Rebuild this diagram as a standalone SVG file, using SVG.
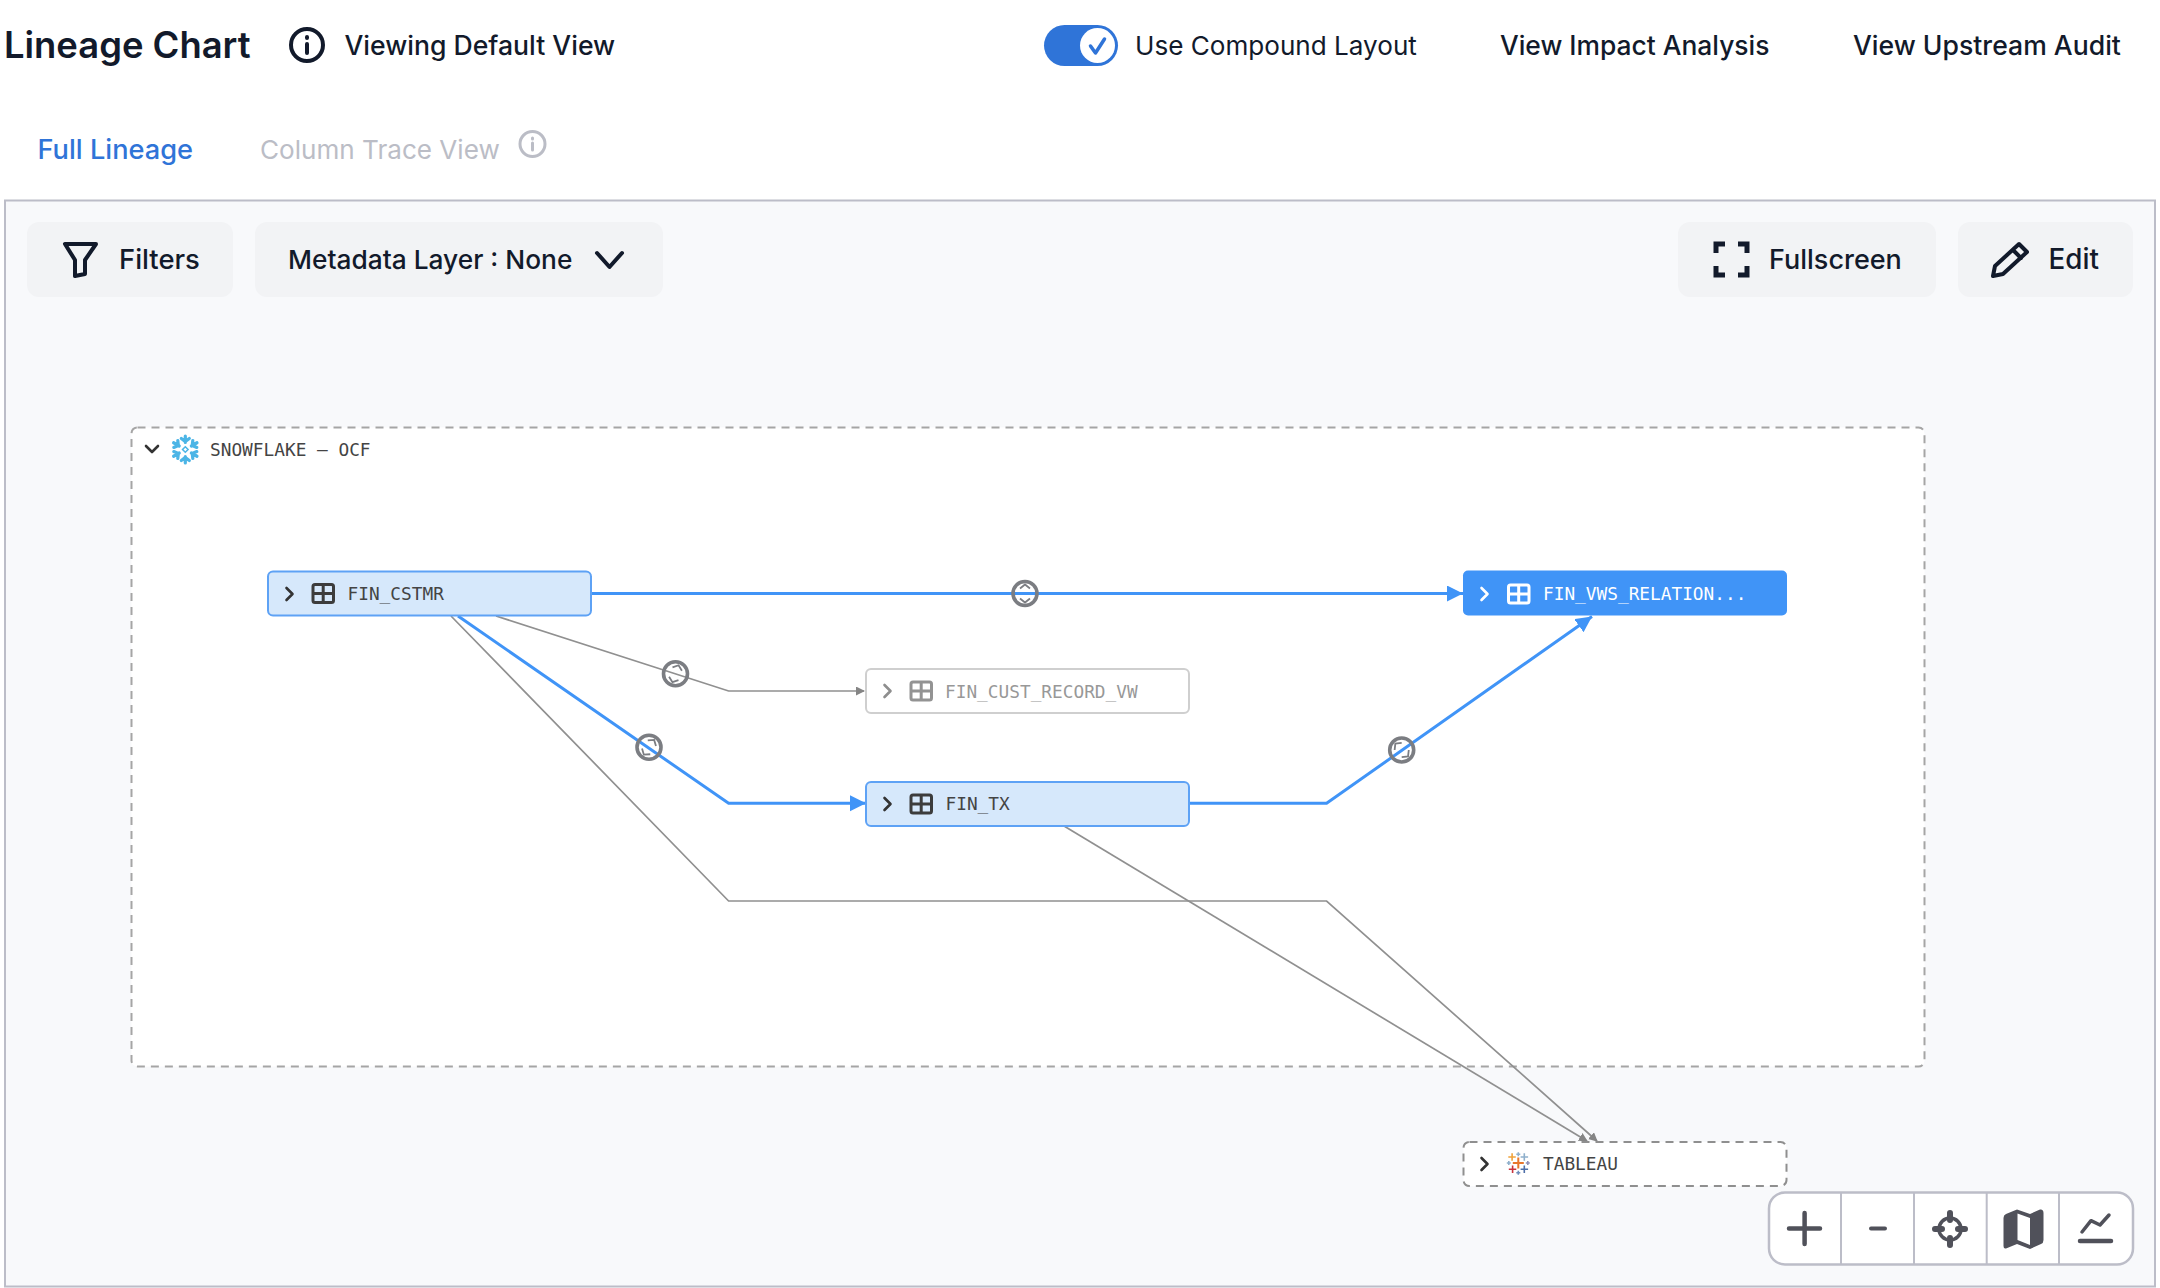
<svg xmlns="http://www.w3.org/2000/svg" width="2160" height="1288" viewBox="0 0 2160 1288">
<style>
.ui{font-family:"Inter","Liberation Sans",sans-serif;font-weight:500;font-size:26.5px;fill:#121a2b}
.mono{font-family:"DejaVu Sans Mono","Liberation Mono",monospace;font-size:17.8px;fill:#444}
.btn{fill:#f2f3f5}
.ic{fill:none;stroke:#121a2b;stroke-width:4;stroke-linecap:round;stroke-linejoin:round}
.ctl{fill:none;stroke:#50515a;stroke-width:4.500;stroke-linecap:round;stroke-linejoin:round}
.node{fill:#d6e8fb;stroke:#5ea2f5;stroke-width:2}
.chev{fill:none;stroke:#333;stroke-width:2.600;stroke-linecap:round;stroke-linejoin:round}
.tb{fill:none;stroke:#3c3c3c;stroke-width:3}
.eb{fill:none;stroke:#4094f7;stroke-width:3}
.eg{fill:none;stroke:#909090;stroke-width:1.700}
.expand circle{fill:none;stroke:#7b7d82;stroke-width:3.600}
.expand path{fill:none;stroke:#7b7d82;stroke-width:1.800}
.tp{stroke-width:1.600;fill:none}
</style>
<defs>
<marker id="ab" markerUnits="userSpaceOnUse" markerWidth="18" markerHeight="18" refX="16" refY="8" orient="auto"><path d="M0 0L16 8L0 16Z" fill="#4094f7"/></marker>
<marker id="ag" markerUnits="userSpaceOnUse" markerWidth="10" markerHeight="10" refX="8" refY="4.500" orient="auto"><path d="M0 0L9 4.500L0 9Z" fill="#858585"/></marker>
</defs>
<rect width="2160" height="1288" fill="#fff"/>
<g id="header">
<text x="4" y="58" style="font-family:Inter,'Liberation Sans',sans-serif;font-weight:600;font-size:36.400px;fill:#121a2b">Lineage Chart</text>
<circle cx="307" cy="45" r="16" class="ic"/><path d="M307 37v1M307 44v9" class="ic"/>
<text x="344.500" y="55" class="ui" style="font-size:26.600px">Viewing Default View</text>
<rect x="1044" y="25" width="74" height="41" rx="20.500" fill="#2f74d8"/>
<circle cx="1097.500" cy="45.500" r="17.500" fill="#fff"/>
<path d="M1090.500 46l5 7l9 -14" fill="none" stroke="#2f74d8" stroke-width="3.500" stroke-linecap="round" stroke-linejoin="round"/>
<text x="1135" y="55" class="ui" style="font-weight:400;font-size:26.100px">Use Compound Layout</text>
<text x="1500" y="55" class="ui" style="font-size:26.400px">View Impact Analysis</text>
<text x="1853" y="55" class="ui" style="font-size:26.600px">View Upstream Audit</text>
<text x="37.500" y="159" class="ui" style="fill:#2f74d8;font-size:27.200px">Full Lineage</text>
<text x="260" y="159" class="ui" style="fill:#bbbdc6;font-weight:400;font-size:26.100px">Column Trace View</text>
<circle cx="532.500" cy="144" r="12.500" fill="none" stroke="#bbbdc6" stroke-width="3"/><path d="M532.500 138v1M532.500 143v7" fill="none" stroke="#bbbdc6" stroke-width="3" stroke-linecap="round"/>
</g>
<rect id="panel" x="5" y="200.500" width="2150" height="1086" fill="#f8f9fb" stroke="#bcbdc8" stroke-width="2"/>
<g id="toolbar">
<rect x="27" y="222" width="206" height="75" rx="12" class="btn"/>
<path d="M65 244H96L85 260V274L75 276V260Z" class="ic"/>
<text x="119" y="269" class="ui" style="font-size:27.400px">Filters</text>
<rect x="255" y="222" width="408" height="75" rx="12" class="btn"/>
<text x="288" y="269" class="ui" style="font-size:26.300px">Metadata Layer : None</text>
<path d="M597 253L609.500 267L622 253" class="ic"/>
<rect x="1678" y="222" width="258" height="75" rx="12" class="btn"/>
<path d="M1716 253V244H1725M1738 244H1747V253M1747 266V275H1738M1725 275H1716V266" class="ic" style="stroke-width:5;stroke-linecap:butt;stroke-linejoin:miter"/>
<text x="1769" y="269" class="ui" style="font-size:27px">Fullscreen</text>
<rect x="1958" y="222" width="175" height="75" rx="12" class="btn"/>
<path d="M2019 244L2027 252L2003 274L1993 276L1995 266ZM2013 250L2021 258" class="ic"/>
<text x="2048.500" y="269" class="ui" style="font-size:27.800px">Edit</text>
</g>
<g id="group-snowflake">
<rect x="131.500" y="427.500" width="1793" height="639" rx="6" fill="#fff" stroke="#a5a5a5" stroke-width="2" stroke-dasharray="8 6"/>
<path d="M146 446L152 452L158 446" class="chev"/>
<g fill="none" stroke="#4cb5e6" stroke-width="3.200" stroke-linecap="round" transform="translate(185.300 449.500)">
<path d="M0 -2.800L2.800 0L0 2.800L-2.800 0Z" stroke-width="1.500"/>
<path d="M0 -7V-13.500M-4 -11L0 -8L4 -11"/>
<path d="M0 -7V-13.500M-4 -11L0 -8L4 -11" transform="rotate(60)"/>
<path d="M0 -7V-13.500M-4 -11L0 -8L4 -11" transform="rotate(120)"/>
<path d="M0 -7V-13.500M-4 -11L0 -8L4 -11" transform="rotate(180)"/>
<path d="M0 -7V-13.500M-4 -11L0 -8L4 -11" transform="rotate(240)"/>
<path d="M0 -7V-13.500M-4 -11L0 -8L4 -11" transform="rotate(300)"/>
</g>
<text x="210" y="456" class="mono">SNOWFLAKE – OCF</text>
</g>
<g id="connectors">
<path class="eb" d="M591 593.500H1463" marker-end="url(#ab)"/>
<path class="eg" d="M496 616L728.600 691H864" marker-end="url(#ag)"/>
<path class="eb" d="M458 616L728.600 803.300H866" marker-end="url(#ab)"/>
<path class="eg" d="M451 616L728.600 901H1326.600L1597 1141" marker-end="url(#ag)"/>
<path class="eg" d="M1064 826L1587 1141" marker-end="url(#ag)"/>
<path class="eb" d="M1188 803.300H1326.600L1592 616.500" marker-end="url(#ab)"/>
<g class="expand">
<g transform="translate(1025 593.500)"><circle r="12"/><path d="M-5 -5L0 -9L5 -5M-5 5L0 9L5 5"/></g>
<g transform="translate(675.500 673.700)"><circle r="12"/><path d="M-5 -5L0 -9L5 -5M-5 5L0 9L5 5" transform="rotate(20)"/></g>
<g transform="translate(649 747.300)"><circle r="12"/><path d="M-5 -5L0 -9L5 -5M-5 5L0 9L5 5" transform="rotate(35)"/></g>
<g transform="translate(1401.700 750)"><circle r="12"/><path d="M-5 -5L0 -9L5 -5M-5 5L0 9L5 5" transform="rotate(-45)"/></g>
</g>
</g>
<g id="node-fin-cstmr">
<rect x="268" y="571.500" width="323" height="44" rx="5" class="node"/>
<path d="M286.500 588L292.500 594L286.500 600" class="chev"/>
<rect x="313" y="584.500" width="20.500" height="18" rx="2" class="tb"/><path d="M323.200 584.500v18M313 593.500h20.500" class="tb"/>
<text x="347.500" y="600" class="mono">FIN_CSTMR</text>
</g>
<g id="node-fin-cust-record-vw" opacity=".55">
<rect x="866" y="669" width="323" height="44" rx="5" fill="#fff" stroke="#a8a8a8" stroke-width="2"/>
<path d="M884.500 685L890.500 691L884.500 697" class="chev"/>
<rect x="911" y="682" width="20.500" height="18" rx="2" class="tb"/><path d="M921.200 682v18M911 691h20.500" class="tb"/>
<text x="945" y="698" class="mono">FIN_CUST_RECORD_VW</text>
</g>
<g id="node-fin-tx">
<rect x="866" y="782" width="323" height="44" rx="5" class="node"/>
<path d="M884.500 798L890.500 804L884.500 810" class="chev"/>
<rect x="911" y="795" width="20.500" height="18" rx="2" class="tb"/><path d="M921.200 795v18M911 804h20.500" class="tb"/>
<text x="945.500" y="810" class="mono">FIN_TX</text>
</g>
<g id="node-fin-vws-relation">
<rect x="1463" y="570.500" width="324" height="45" rx="5" fill="#4094f7"/>
<path d="M1481.500 588L1487.500 594L1481.500 600" fill="none" stroke="#fff" stroke-width="2.600" stroke-linecap="round" stroke-linejoin="round"/>
<g fill="none" stroke="#fff" stroke-width="3"><rect x="1508.500" y="585" width="20.500" height="18" rx="2"/><path d="M1518.700 585v18M1508.500 594h20.500"/></g>
<text x="1543" y="600" class="mono" style="fill:#fff">FIN_VWS_RELATION...</text>
</g>
<g id="node-tableau">
<rect x="1463.500" y="1142" width="323" height="44" rx="6" fill="#fff" stroke="#8f8f8f" stroke-width="2" stroke-dasharray="8 6"/>
<path d="M1481.500 1158L1487.500 1164L1481.500 1170" class="chev"/>
<g class="tp" transform="translate(1518.300 1163)">
<path d="M-5.500 0h11M0 -5.500v11" stroke="#e8762b" stroke-width="2"/>
<path d="M-10 -6h7.500M-6.200 -9.700v7.500" stroke="#f0a33c"/>
<path d="M2.300 -6h7.500M6 -9.700v7.500" stroke="#8fb0cc"/>
<path d="M-9.500 6.300h7.500M-5.700 2.600v7.500" stroke="#c9323c"/>
<path d="M2.300 6.300h7.500M6 2.600v7.500" stroke="#4e6ea8"/>
<path d="M-11.500 0h4M-9.500 -2v4" stroke="#8fb0cc"/>
<path d="M7.500 0h4M9.500 -2v4" stroke="#8f90b8"/>
<path d="M-2 -8.700h4M0 -10.700v4" stroke="#8fb0cc"/>
<path d="M-2 9.700h4M0 7.700v4" stroke="#6f8fbc"/>
</g>
<text x="1543" y="1170" class="mono">TABLEAU</text>
</g>
<g id="zoom-controls">
<rect x="1769" y="1192.500" width="364" height="72" rx="16" fill="#fff" stroke="#bcbdc8" stroke-width="2.500"/>
<path d="M1841 1192.500v72M1914 1192.500v72M1986.700 1192.500v72M2059 1192.500v72" stroke="#bcbdc8" stroke-width="2"/>
<path d="M1789 1228.500h31M1804.600 1213v31" class="ctl"/>
<path d="M1871 1228.500h14" class="ctl" style="stroke-width:4"/>
<circle cx="1950" cy="1229" r="11" fill="none" stroke="#50515a" stroke-width="3.500"/>
<path d="M1950 1213v7M1950 1238v7M1935 1229h7M1958 1229h7" class="ctl" style="stroke-width:6"/>
<path d="M2006 1214L2017 1209.500L2030 1214L2040 1209.500Q2043.500 1209 2043.500 1213V1240Q2043.500 1243 2041 1244L2030 1249L2017 1244L2006 1248.500Q2003.500 1249 2003.500 1246V1218Q2003.500 1215 2006 1214Z" fill="#50515a"/>
<path d="M2017.500 1213.500L2030 1218V1245L2017.500 1240Z" fill="#fff"/>
<path d="M2082 1232L2091 1220.700L2100 1225L2109 1215" class="ctl" style="stroke-width:3.500"/>
<path d="M2080 1241h31" class="ctl"/>
</g>
</svg>
